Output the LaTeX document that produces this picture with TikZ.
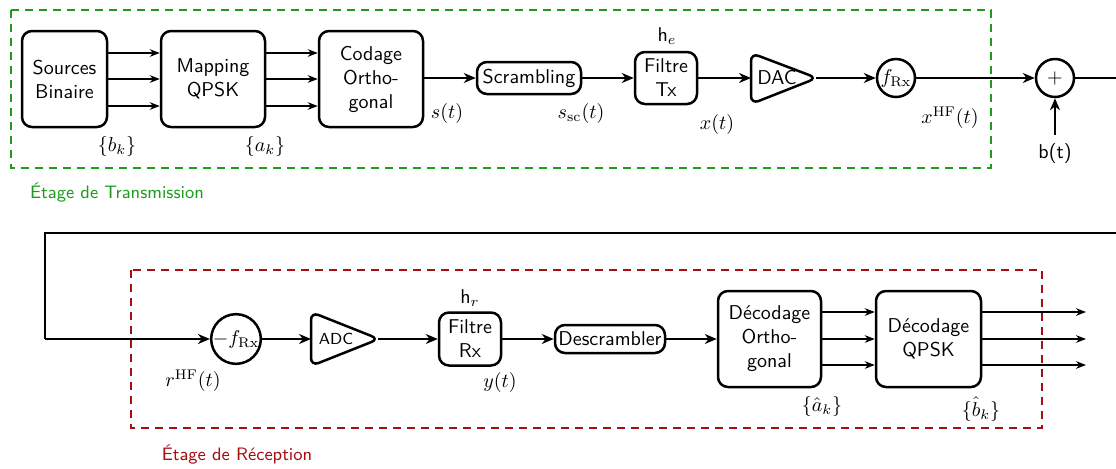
\documentclass[tikz,border=0pt]{standalone}
\usetikzlibrary{arrows.meta,calc}
\definecolor{tgreen}{RGB}{30,155,30}
\definecolor{rred}{RGB}{165,15,20}
\newcommand\upx{0.5pt}
\begin{document}
\begin{tikzpicture}[x=0.5pt,y=-0.5pt,font=\sffamily,
  blk/.style={draw,line width=1.25pt,rounded corners=5pt,align=center,inner sep=0pt},
  rnd/.style={draw,line width=1.25pt,circle,inner sep=0pt,minimum size=38*\upx},
  mline/.style={line width=1.15pt},
  marr/.style={line width=1.15pt,-{Stealth[length=6pt,width=5pt]}},
  tarr/.style={line width=0.7pt,-{Stealth[length=5pt,width=3.8pt]}},
  lbl/.style={inner sep=0pt},
  stage/.style={line width=1.25pt,dash pattern=on 4.2pt off 2.8pt}]
\useasboundingbox (0,0) rectangle (1116,468);
\clip (0,0) rectangle (1116,468);

% ---------- Transmission ----------
\draw[stage,tgreen] (11,10) rectangle (991,168);
\node[lbl,text=tgreen,font=\sffamily\small] (tlab) at (117,193) {Étage de Transmission};

\node[blk,minimum width=85*\upx,minimum height=96*\upx] (src) at (64.5,79) {Sources\\Binaire};
\node[blk,minimum width=104*\upx,minimum height=96*\upx] (map) at (213,79) {Mapping\\QPSK};
\node[blk,minimum width=104*\upx,minimum height=96*\upx] (cod) at (371,79) {Codage\\Ortho-\\gonal};
\node[blk,minimum width=104*\upx,minimum height=32*\upx] (scr) at (529,78) {Scrambling};
\node[blk,minimum width=62*\upx,minimum height=52*\upx] (ftx) at (666,78) {Filtre\\Tx};
\draw[line width=1.25pt,rounded corners=4pt] (751,53) -- (817,78) -- (751,104) -- cycle;
\node[lbl] (dac) at (777,78) {DAC};
\coordinate (dacin) at (751,78);
\coordinate (dacout) at (816,78);
\node[rnd] (frx) at (896,78) {$f_{\mathrm{Rx}}$};
\node[rnd] (sum) at (1055,78) {$+$};
\node[inner sep=4pt] (bt) at (1055,153) {b(t)};

\foreach \d in {-26,0,27}{
  \draw[tarr] ($(src.east)+(0,\d)$) -- ($(map.west)+(0,\d)$);
  \draw[tarr] ($(map.east)+(0,\d)$) -- ($(cod.west)+(0,\d)$);
}
\draw[marr] (cod.east |- scr.west) -- (scr.west);
\draw[marr] (scr.east) -- (ftx.west);
\draw[marr] (ftx.east) -- (dacin);
\draw[marr] (dacout) -- (frx.west);
\draw[marr] (frx.east) -- (sum.west);
\draw[marr] (bt.north) -- (sum.south);

\node[lbl] (bk) at (117,146) {$\{b_k\}$};
\node[lbl] (ak) at (265,146) {$\{a_k\}$};
\node[lbl] (st) at (447,113) {$s(t)$};
\node[lbl] (ssc) at (581,113) {$s_{\mathrm{sc}}(t)$};
\node[lbl] (he) at (667,36) {h$_e$};
\node[lbl] (xt) at (717,124) {$x(t)$};
\node[lbl] (xhf) at (950,118) {$x^{\mathrm{HF}}(t)$};

% ---------- channel loop ----------
\coordinate (turn) at (1140,233);
\coordinate (c1) at (45,233);
\coordinate (c2) at (45,339);

% ---------- Reception ----------
\draw[stage,rred] (131,270) rectangle (1042,428);
\node[lbl,text=rred,font=\sffamily\small] (rlab) at (237,455) {Étage de Réception};

\node[rnd,minimum size=42*\upx] (rfrx) at (236,339) {$-f_{\mathrm{Rx}}$};
\draw[line width=1.25pt,rounded corners=4pt] (311,312) -- (379,339) -- (311,366) -- cycle;
\node[lbl,font=\sffamily\footnotesize] (adc) at (336,339) {ADC};
\coordinate (adcin) at (311,339);
\coordinate (adcout) at (378,339);
\node[blk,minimum width=62*\upx,minimum height=53*\upx] (frxf) at (470,339) {Filtre\\Rx};
\node[blk,minimum width=110*\upx,minimum height=28*\upx] (desc) at (610,339) {Descrambler};
\node[blk,minimum width=103*\upx,minimum height=96*\upx] (dort) at (769.5,339) {Décodage\\Ortho-\\gonal};
\node[blk,minimum width=105*\upx,minimum height=96*\upx] (dqp) at (928.5,339) {Décodage\\QPSK};

\draw[mline] (sum.east) -| (turn) -- (c1) -- (c2);
\draw[marr] (c2) -- (rfrx.west);
\draw[marr] (rfrx.east) -- (adcin);
\draw[marr] (adcout) -- (frxf.west);
\draw[marr] (frxf.east) -- (desc.west);
\draw[marr] (desc.east) -- (dort.west);
\foreach \d/\n in {-27/1,0/2,26/3}{
  \draw[tarr] ($(dort.east)+(0,\d)$) -- ($(dqp.west)+(0,\d)$);
  \coordinate (o\n) at (1086,339+\d);
  \draw[tarr] ($(dqp.east)+(0,\d)$) -- (o\n);
}

\node[lbl] (rhf) at (193,381) {$r^{\mathrm{HF}}(t)$};
\node[lbl] (hr) at (470,298) {h$_r$};
\node[lbl] (yt) at (500,382) {$y(t)$};
\node[lbl] (ah) at (822,406) {$\{\hat a_k\}$};
\node[lbl] (bh) at (981,409) {$\{\hat b_k\}$};
\end{tikzpicture}
\end{document}
